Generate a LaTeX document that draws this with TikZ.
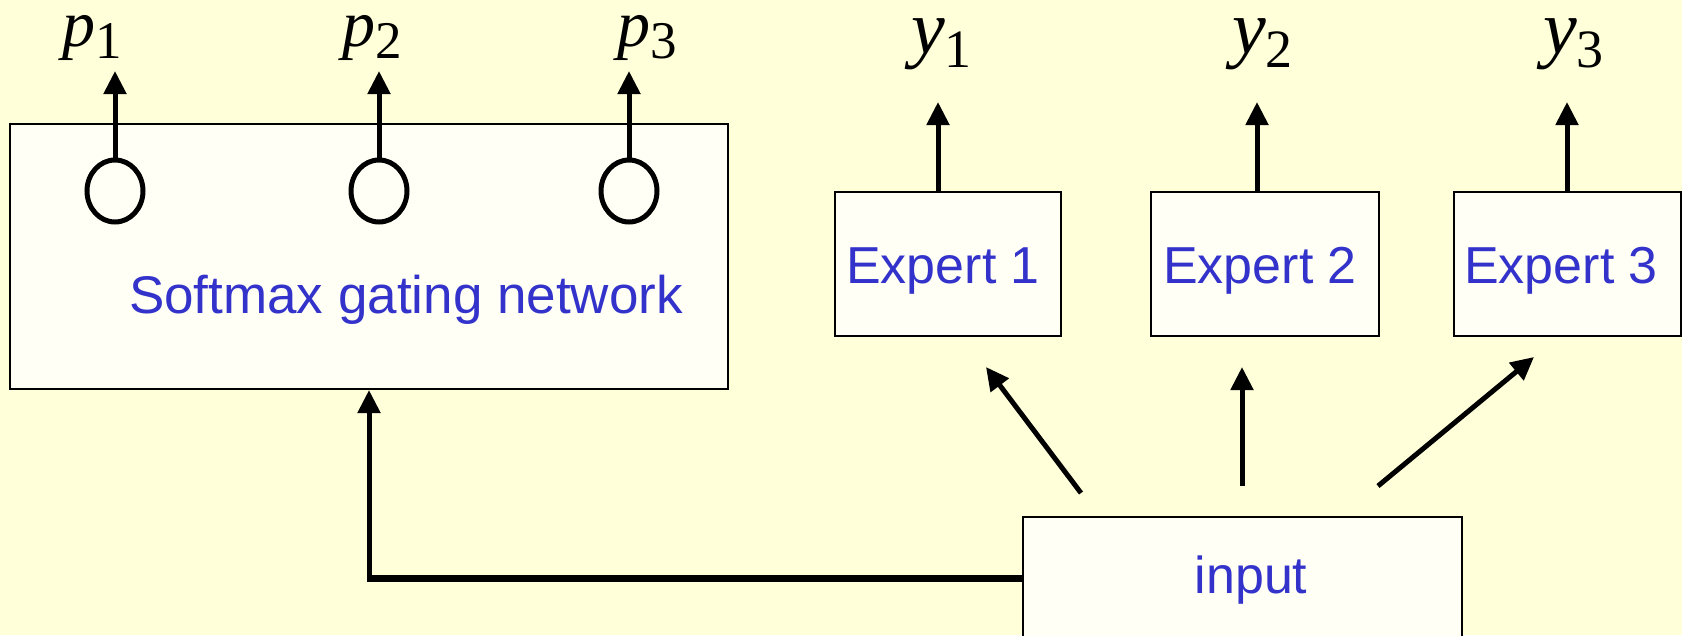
\documentclass[tikz,border=0pt]{standalone}
\usepackage{fontspec}
\setmainfont{Liberation Sans}
\newfontfamily\labelfont{Liberation Serif}
\usetikzlibrary{arrows.meta,shapes.geometric}

\definecolor{bgyellow}{HTML}{FFFFDA}
\definecolor{boxfill}{HTML}{FFFFF6}
\definecolor{textblue}{HTML}{3333CC}

\tikzset{
  unitbox/.style={draw=black, line width=2pt, fill=boxfill, inner sep=0pt,
                  anchor=north west, rectangle},
  boxtext/.style={text=textblue, font=\fontsize{52}{60}\selectfont,
                  inner sep=0pt, anchor=base},
  flow/.style={line width=5pt, -{Triangle[length=23pt,width=22pt]}},
  gateunit/.style={draw, ellipse, line width=5pt, inner sep=0pt,
                   minimum width=56pt, minimum height=62pt},
  outlabel/.style={inner sep=0pt, anchor=base west},
}
% output symbols: italic letter with a lowered upright index
\newcommand{\plabel}[1]{\labelfont\fontsize{66}{70}\selectfont\textit{p}\raisebox{-12pt}{\fontsize{53}{60}\selectfont #1}}
\newcommand{\ylabel}[1]{\labelfont\fontsize{76}{80}\selectfont\textit{y}\raisebox{-14pt}{\fontsize{54}{60}\selectfont #1}}

\begin{document}
\begin{tikzpicture}[x=1pt,y=-1pt]
  \useasboundingbox (0,0) rectangle (1682,635);
  \clip (0,0) rectangle (1682,635);
  \fill[bgyellow] (0,0) rectangle (1682,635);

  % gating network
  \node[unitbox, minimum width=718pt, minimum height=265pt] (soft) at (9,123) {};
  \node[boxtext, font=\fontsize{53}{60}\selectfont] (softtxt) at (406,313) {Softmax gating network};
  \node[gateunit] (g1) at (115,191) {};
  \node[gateunit] (g2) at (379,191) {};
  \node[gateunit] (g3) at (629,191) {};
  \coordinate (pt1) at (115,71);
  \coordinate (pt2) at (379,71);
  \coordinate (pt3) at (629,71);
  \draw[flow] (g1.north) -- (pt1);
  \draw[flow] (g2.north) -- (pt2);
  \draw[flow] (g3.north) -- (pt3);
  \node[outlabel] (p1) at (62,46)  {\plabel{1}};
  \node[outlabel] (p2) at (342,46) {\plabel{2}};
  \node[outlabel] (p3) at (617,46) {\plabel{3}};

  % experts
  \node[unitbox, minimum width=226pt, minimum height=144pt] (e1) at (834,191) {};
  \node[unitbox, minimum width=228pt, minimum height=144pt] (e2) at (1150,191) {};
  \node[unitbox, minimum width=227pt, minimum height=144pt] (e3) at (1453,191) {};
  \node[boxtext] (e1txt) at (943,283)  {Expert 1};
  \node[boxtext] (e2txt) at (1260,283) {Expert 2};
  \node[boxtext] (e3txt) at (1561,283) {Expert 3};
  \coordinate (yt1) at (938,102);
  \coordinate (yt2) at (1257,102);
  \coordinate (yt3) at (1567,102);
  \draw[flow] (e1.north -| yt1) -- (yt1);
  \draw[flow] (e2.north -| yt2) -- (yt2);
  \draw[flow] (e3.north -| yt3) -- (yt3);
  \node[outlabel] (y1) at (911,53)  {\ylabel{1}};
  \node[outlabel] (y2) at (1232,53) {\ylabel{2}};
  \node[outlabel] (y3) at (1543,53) {\ylabel{3}};

  % input
  \node[unitbox, minimum width=439pt, minimum height=122pt] (inp) at (1022,516) {};
  \node[boxtext] (inptxt) at (1251,593) {input};
  \coordinate (a1s) at (1081,493);
  \coordinate (a1e) at (986,367);
  \coordinate (a2s) at (1242,486);
  \coordinate (a2e) at (1242,367);
  \coordinate (a3s) at (1378,486);
  \coordinate (a3e) at (1534,357);
  \draw[flow] (a1s) -- (a1e);
  \draw[flow] (a2s) -- (a2e);
  \draw[flow] (a3s) -- (a3e);
  % feed from the input to the gating network
  \coordinate (bend) at (soft.south |- inp.west);
  \draw[line width=7pt] (inp.west) -- ([xshift=-2.5pt]bend);
  \draw[flow] (bend) -- (soft.south);
\end{tikzpicture}
\end{document}
